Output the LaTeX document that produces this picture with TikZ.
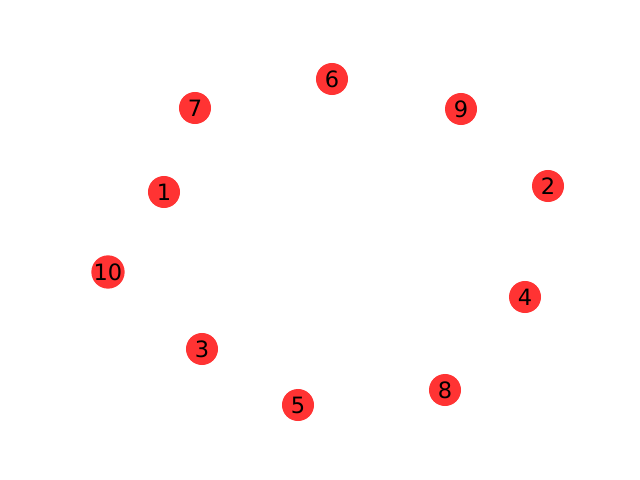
\documentclass[tikz,border=0pt]{standalone}
\usepackage{fontspec}
\setmainfont{DejaVu Sans}
\usepackage{tikz}
\definecolor{nodered}{RGB}{255,51,51}
\tikzset{vertex/.style={circle, fill=nodered, minimum size=0.8cm, inner sep=0pt, text=black, font=\fontsize{16}{19}\selectfont}}

\begin{document}
\begin{tikzpicture}[x=0.025cm, y=-0.025cm]
        \useasboundingbox (0,0) rectangle (640,480);
        \node (n6) [vertex] at (332,79) {6};
        \node (n7) [vertex] at (195,108) {7};
        \node (n9) [vertex] at (461,109) {9};
        \node (n1) [vertex] at (164,192) {1};
        \node (n2) [vertex] at (548,186) {2};
        \node (n10) [vertex] at (108,272) {10};
        \node (n4) [vertex] at (525,297) {4};
        \node (n3) [vertex] at (202,349) {3};
        \node (n8) [vertex] at (445,390) {8};
        \node (n5) [vertex] at (298,405) {5};
    \end{tikzpicture}
\end{document}
